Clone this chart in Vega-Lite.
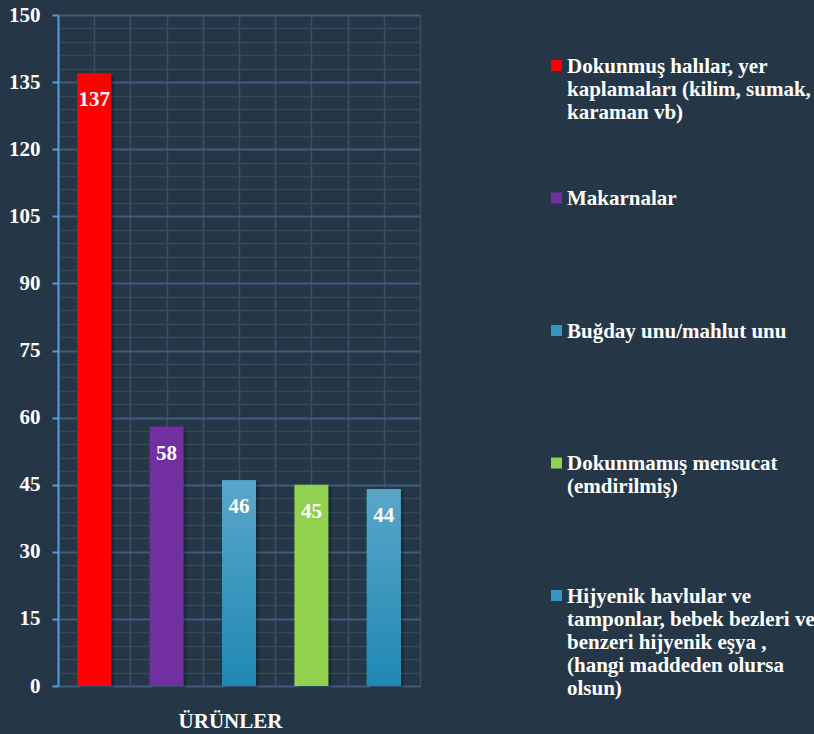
{
  "$schema": "https://vega.github.io/schema/vega-lite/v6.json",
  "width": 362,
  "height": 671,
  "autosize": {"type": "none"},
  "padding": {"left": 58, "top": 15, "right": 394, "bottom": 48},
  "background": "#253746",
  "config": {"view": {"stroke": null}, "font": "Liberation Serif"},
  "data": {
    "values": [
      {"urun": "Dokunmuş halılar, yer\nkaplamaları (kilim, sumak,\nkaraman vb)", "value": 137},
      {"urun": "Makarnalar", "value": 58},
      {"urun": "Buğday unu/mahlut unu", "value": 46},
      {"urun": "Dokunmamış mensucat\n(emdirilmiş)", "value": 45},
      {"urun": "Hijyenik havlular ve\ntamponlar, bebek bezleri ve\nbenzeri hijyenik eşya ,\n(hangi maddeden olursa\nolsun)", "value": 44}
    ]
  },
  "layer": [
    {
      "mark": {"type": "point", "opacity": 0},
      "encoding": {
        "x": {
          "datum": 0, "type": "quantitative",
          "scale": {"domain": [0, 10], "nice": false},
          "axis": {"orient": "bottom", "values": [0,1,2,3,4,5,6,7,8,9,10], "grid": true, "gridColor": "#3b4f62", "gridWidth": 1.5, "labels": false, "ticks": false, "domain": false, "title": null}
        },
        "y": {
          "datum": 0, "type": "quantitative",
          "scale": {"domain": [0, 150], "nice": false},
          "axis": {"orient": "left", "values": [3,6,9,12,18,21,24,27,33,36,39,42,48,51,54,57,63,66,69,72,78,81,84,87,93,96,99,102,108,111,114,117,123,126,129,132,138,141,144,147], "grid": true, "gridColor": "#34495c", "gridWidth": 1.5, "labels": false, "ticks": false, "domain": false, "title": null}
        }
      }
    },
    {
      "encoding": {
        "x": {
          "field": "urun", "type": "nominal", "sort": null,
          "axis": {"orient": "bottom", "labels": false, "ticks": false, "domain": false, "grid": false, "title": "ÜRÜNLER", "titleFont": "Liberation Serif", "titleFontSize": 21, "titleFontWeight": "bold", "titleColor": "#ffffff", "titleX": 172, "titleY": 41, "titleBaseline": "alphabetic", "titleAlign": "center"}
        },
        "y": {
          "field": "value", "type": "quantitative",
          "scale": {"domain": [0, 150], "nice": false},
          "axis": {"orient": "left", "values": [0,15,30,45,60,75,90,105,120,135,150], "grid": true, "gridColor": "#3d5d7f", "gridWidth": 2, "domainColor": "#5b9bd5", "domainWidth": 2, "tickColor": "#5b9bd5", "tickWidth": 2, "tickSize": 6, "labelPadding": 12, "labelFont": "Liberation Serif", "labelFontSize": 21, "labelFontWeight": "bold", "labelColor": "#ffffff", "title": null}
        }
      },
      "layer": [
        {
          "mark": {"type": "bar", "width": 34, "color": "#000000", "opacity": 0.22, "xOffset": 3, "yOffset": 2}
        },
        {
          "mark": {"type": "bar", "width": 34},
          "encoding": {
            "color": {
              "field": "urun", "type": "nominal", "sort": null,
              "scale": {"range": ["#ff0000", "#7030a0", "#3796c1", "#92d050", "#3796c1"]},
              "legend": {
                "orient": "none", "legendX": 488, "legendY": 47, "title": null,
                "labelExpr": "split(datum.label, '\\n')",
                "gridAlign": "all", "rowPadding": 18.5, "padding": 0,
                "symbolType": "M-1,-2.27L1,-2.27L1,-0.27L-1,-0.27Z", "symbolSize": 121, "symbolStrokeWidth": 0, "symbolOpacity": 1,
                "labelFont": "Liberation Serif", "labelFontSize": 21, "labelFontWeight": "bold", "labelColor": "#ffffff",
                "labelLimit": 600, "labelOffset": 0, "labelBaseline": "alphabetic"
              }
            }
          }
        },
        {
          "transform": [{"filter": "indexof(datum.urun, 'Buğday') >= 0 || indexof(datum.urun, 'Hijyenik') >= 0"}],
          "mark": {"type": "bar", "width": 34, "color": {"gradient": "linear", "x1": 0, "y1": 0, "x2": 0, "y2": 1, "stops": [{"offset": 0, "color": "#5aa6c9"}, {"offset": 1, "color": "#1f88b3"}]}}
        },
        {
          "mark": {"type": "text", "color": "#ffffff", "font": "Liberation Serif", "fontSize": 21, "fontWeight": "bold", "baseline": "alphabetic", "dy": 33},
          "encoding": {
            "text": {"field": "value", "type": "quantitative"}
          }
        }
      ]
    }
  ],
  "resolve": {"scale": {"x": "independent"}, "axis": {"x": "independent", "y": "independent"}}
}
